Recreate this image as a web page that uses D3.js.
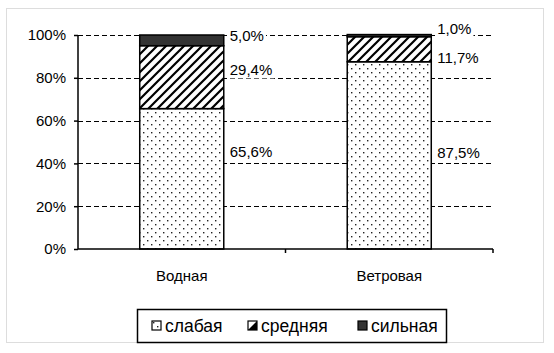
<!DOCTYPE html>
<html>
<head>
<meta charset="utf-8">
<script src="https://cdn.jsdelivr.net/npm/d3@7"></script>
<style>
  body { margin: 0; background: #fff; }
  text { font-family: "Liberation Sans", Arial, sans-serif; fill: #000; }
</style>
</head>
<body>
<svg id="chart" width="554" height="353"></svg>
<script>
// data
const categories = ['Водная', 'Ветровая']
const seriesNames = ['слабая', 'средняя', 'сильная']
const slabaya = [65.6, 87.5]
const srednyaya = [29.4, 11.7]
const silnaya = [5.0, 1.0]
const yTicks = [0, 20, 40, 60, 80, 100]

const svg = d3.select('#chart')

const margin = {left: 78, right: 61, top: 35, bottom: 104}
const W = 554, H = 353
const plotW = W - margin.left - margin.right
const plotH = H - margin.top - margin.bottom

// patterns
const defs = svg.append('defs')
const dots = defs.append('pattern').attr('id', 'dots')
    .attr('patternUnits', 'userSpaceOnUse').attr('width', 8).attr('height', 8)
dots.append('rect').attr('width', 8).attr('height', 8).attr('fill', '#fff')
dots.append('rect').attr('x', 1).attr('y', 1).attr('width', 1.4).attr('height', 1.4).attr('fill', '#222')
dots.append('rect').attr('x', 5).attr('y', 5).attr('width', 1.4).attr('height', 1.4).attr('fill', '#222')

const hatch = defs.append('pattern').attr('id', 'hatch')
    .attr('patternUnits', 'userSpaceOnUse').attr('width', 9).attr('height', 9)
hatch.append('rect').attr('width', 9).attr('height', 9).attr('fill', '#fff')
hatch.append('path').attr('d', 'M-2,2 L2,-2 M0,9 L9,0 M7,11 L11,7')
    .attr('stroke', '#000').attr('stroke-width', 2.2)

const fills = ['url(#dots)', 'url(#hatch)', '#333']

// outer frame
svg.append('rect')
    .attr('x', 6.5).attr('y', 8.5).attr('width', 537).attr('height', 334)
    .attr('fill', '#fff').attr('stroke', '#ddd')

const g = svg.append('g').attr('transform', `translate(${margin.left},${margin.top})`)

const x = d3.scaleBand().domain(categories).range([0, plotW]).paddingInner(0).paddingOuter(0)
const y = d3.scaleLinear().domain([0, 100]).range([plotH, 0])
const barW = x.bandwidth() * 0.405

// grid
g.selectAll('.grid').data(yTicks.filter(d => d > 0)).enter().append('line')
    .attr('x1', 0).attr('x2', plotW)
    .attr('y1', d => Math.round(y(d)) + 0.5).attr('y2', d => Math.round(y(d)) + 0.5)
    .attr('stroke', '#000').attr('stroke-width', 1.2).attr('stroke-dasharray', '5,3')

// stacked data
const rows = categories.map((c, i) => ({cat: c, 'слабая': slabaya[i], 'средняя': srednyaya[i], 'сильная': silnaya[i]}))
const stack = d3.stack().keys(seriesNames)(rows)

stack.forEach((layer, si) => {
    g.selectAll('.seg' + si).data(layer).enter().append('rect')
        .attr('x', d => x(d.data.cat) + (x.bandwidth() - barW) / 2)
        .attr('y', d => y(d[1]))
        .attr('width', barW)
        .attr('height', d => y(d[0]) - y(d[1]))
        .attr('fill', fills[si])
        .attr('stroke', '#000').attr('stroke-width', 1.5)
})

// axes
const yAxis = g.append('g').call(d3.axisLeft(y).tickValues(yTicks).tickFormat(d => d + '%').tickSize(4).tickPadding(8))
yAxis.select('.domain').attr('stroke-width', 1.5).attr('d', `M0,${plotH}V0`)
yAxis.selectAll('.tick line').attr('stroke-width', 1.5)
yAxis.selectAll('text').style('font-size', '15px')

const xAxis = g.append('g').attr('transform', `translate(0,${plotH})`)
xAxis.append('line').attr('x1', 0).attr('x2', plotW).attr('stroke', '#000').attr('stroke-width', 1.5)
xAxis.selectAll('.xt').data(categories).enter().append('line')
    .attr('x1', d => x(d) + x.bandwidth()).attr('x2', d => x(d) + x.bandwidth())
    .attr('y1', 0).attr('y2', 4).attr('stroke', '#000').attr('stroke-width', 1.5)
xAxis.selectAll('.xl').data(categories).enter().append('text')
    .attr('x', d => x(d) + x.bandwidth() / 2).attr('y', 32)
    .attr('text-anchor', 'middle').style('font-size', '15px')
    .text(d => d)

// value labels (nudged like in the original)
const nudge = [[-27, -3], [-7, 9], [-5, -7]]
stack.forEach((layer, si) => {
    layer.forEach((d, ci) => {
        const lx = x(d.data.cat) + (x.bandwidth() + barW) / 2 + 6
        const ly = (y(d[0]) + y(d[1])) / 2 + nudge[si][ci]
        const lg = g.append('g')
        const t = lg.append('text').attr('x', lx).attr('y', ly).attr('dy', '0.35em')
            .style('font-size', '15px')
            .text(d3.format('.1f')(d[1] - d[0]).replace('.', ',') + '%')
        const bb = t.node().getBBox()
        lg.insert('rect', 'text').attr('x', bb.x - 2).attr('y', bb.y)
            .attr('width', bb.width + 4).attr('height', bb.height).attr('fill', '#fff')
    })
})

// legend
const leg = svg.append('g').attr('transform', 'translate(137,309)')
leg.append('rect').attr('x', 0.5).attr('y', 0.5).attr('width', 309).attr('height', 33)
    .attr('fill', '#fff').attr('stroke', '#000').attr('stroke-width', 1.5)
const legX = [15, 111, 221]
seriesNames.forEach((s, i) => {
    const m = leg.append('g').attr('transform', `translate(${legX[i]},12)`)
    m.append('rect').attr('width', 9).attr('height', 9)
        .attr('fill', i === 1 ? '#fff' : fills[i]).attr('stroke', '#000').attr('stroke-width', 1.2)
    if (i === 1) m.append('path').attr('d', 'M9,0 L9,9 L0,9 Z').attr('fill', '#000')
    leg.append('text').attr('x', legX[i] + 13).attr('y', 17).attr('dy', '0.35em')
        .style('font-size', '17.5px').text(s)
})
</script>
</body>
</html>
